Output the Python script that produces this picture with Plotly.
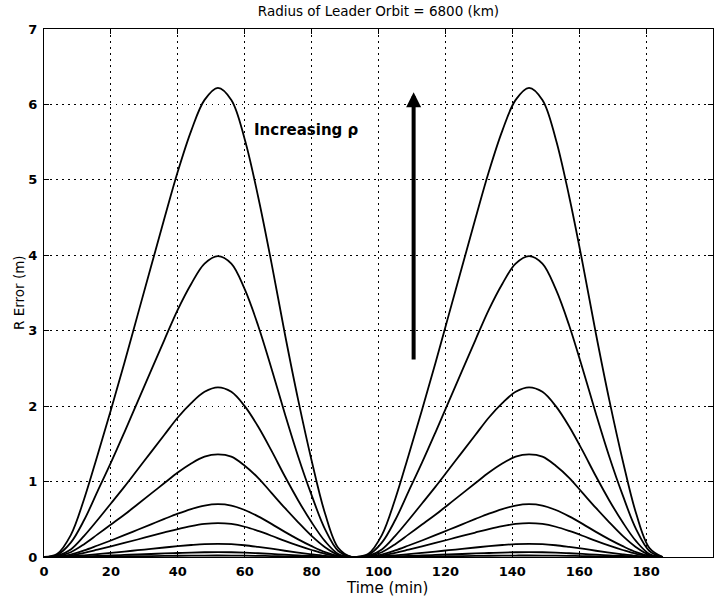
import plotly.graph_objects as go

# Sample times over two leader orbits (minutes)
time_min = [0, 4, 8, 12, 16, 20, 24, 28, 32, 36, 40, 44, 48, 52, 56, 60, 64, 68, 72, 76,
            80, 84, 88, 92,
            93, 97, 101, 105, 109, 113, 117, 121, 125, 129, 133, 137, 141, 145, 149, 153,
            157, 161, 165, 169, 173, 177, 181, 185]

# Radial error (m) for each formation size rho, smallest to largest
err_rho_1 = [0, 0.0001, 0.0009, 0.0025, 0.0043, 0.0063, 0.0083, 0.0103, 0.0124, 0.0144, 0.0164,
             0.0182, 0.0195, 0.02, 0.0195, 0.0178, 0.0154, 0.0125, 0.0095, 0.0067, 0.0041,
             0.0019, 0.0004, 0,
             0, 0.0001, 0.0009, 0.0025, 0.0043, 0.0063, 0.0083, 0.0103, 0.0124, 0.0144, 0.0164,
             0.0182, 0.0195, 0.02, 0.0195, 0.0178, 0.0154, 0.0125, 0.0095, 0.0067, 0.0041,
             0.0019, 0.0004, 0]
err_rho_2 = [0, 0.0005, 0.003, 0.008, 0.014, 0.020, 0.027, 0.034, 0.040, 0.047, 0.053,
             0.059, 0.063, 0.065, 0.063, 0.058, 0.050, 0.041, 0.031, 0.022, 0.013,
             0.006, 0.001, 0,
             0, 0.0005, 0.003, 0.008, 0.014, 0.020, 0.027, 0.034, 0.040, 0.047, 0.053,
             0.059, 0.063, 0.065, 0.063, 0.058, 0.050, 0.041, 0.031, 0.022, 0.013,
             0.006, 0.001, 0]
err_rho_3 = [0, 0.0012, 0.0082, 0.0217, 0.038, 0.055, 0.072, 0.090, 0.108, 0.126, 0.144,
             0.159, 0.171, 0.175, 0.171, 0.156, 0.134, 0.110, 0.083, 0.059, 0.036,
             0.016, 0.003, 0,
             0, 0.0012, 0.0082, 0.0217, 0.038, 0.055, 0.072, 0.090, 0.108, 0.126, 0.144,
             0.159, 0.171, 0.175, 0.171, 0.156, 0.134, 0.110, 0.083, 0.059, 0.036,
             0.016, 0.003, 0]
err_rho_4 = [0, 0.003, 0.021, 0.056, 0.098, 0.141, 0.186, 0.232, 0.279, 0.325, 0.370,
             0.409, 0.438, 0.45, 0.438, 0.401, 0.346, 0.282, 0.214, 0.150, 0.093,
             0.042, 0.009, 0,
             0, 0.003, 0.021, 0.056, 0.098, 0.141, 0.186, 0.232, 0.279, 0.325, 0.370,
             0.409, 0.438, 0.45, 0.438, 0.401, 0.346, 0.282, 0.214, 0.150, 0.093,
             0.042, 0.009, 0]
err_rho_5 = [0, 0.005, 0.033, 0.087, 0.152, 0.219, 0.289, 0.361, 0.433, 0.505, 0.575,
             0.636, 0.682, 0.70, 0.682, 0.623, 0.538, 0.439, 0.333, 0.234, 0.144,
             0.065, 0.014, 0,
             0, 0.005, 0.033, 0.087, 0.152, 0.219, 0.289, 0.361, 0.433, 0.505, 0.575,
             0.636, 0.682, 0.70, 0.682, 0.623, 0.538, 0.439, 0.333, 0.234, 0.144,
             0.065, 0.014, 0]
err_rho_6 = [0, 0.01, 0.063, 0.17, 0.30, 0.43, 0.56, 0.70, 0.84, 0.98, 1.12,
             1.24, 1.33, 1.36, 1.33, 1.21, 1.05, 0.85, 0.65, 0.46, 0.28,
             0.13, 0.026, 0,
             0, 0.01, 0.063, 0.17, 0.30, 0.43, 0.56, 0.70, 0.84, 0.98, 1.12,
             1.24, 1.33, 1.36, 1.33, 1.21, 1.05, 0.85, 0.65, 0.46, 0.28,
             0.13, 0.026, 0]
err_rho_7 = [0, 0.016, 0.10, 0.28, 0.49, 0.71, 0.93, 1.16, 1.39, 1.62, 1.85,
             2.04, 2.19, 2.25, 2.19, 2.00, 1.73, 1.41, 1.07, 0.75, 0.46,
             0.21, 0.04, 0,
             0, 0.016, 0.10, 0.28, 0.49, 0.71, 0.93, 1.16, 1.39, 1.62, 1.85,
             2.04, 2.19, 2.25, 2.19, 2.00, 1.73, 1.41, 1.07, 0.75, 0.46,
             0.21, 0.04, 0]
err_rho_8 = [0, 0.03, 0.19, 0.49, 0.87, 1.25, 1.65, 2.06, 2.47, 2.88, 3.28,
             3.62, 3.89, 3.99, 3.89, 3.55, 3.07, 2.50, 1.90, 1.33, 0.82,
             0.37, 0.08, 0,
             0, 0.03, 0.19, 0.49, 0.87, 1.25, 1.65, 2.06, 2.47, 2.88, 3.28,
             3.62, 3.89, 3.99, 3.89, 3.55, 3.07, 2.50, 1.90, 1.33, 0.82,
             0.37, 0.08, 0]
err_rho_9 = [0, 0.044, 0.29, 0.77, 1.35, 1.95, 2.57, 3.21, 3.85, 4.49, 5.11,
             5.65, 6.06, 6.22, 6.06, 5.54, 4.78, 3.90, 2.96, 2.08, 1.28,
             0.58, 0.12, 0,
             0, 0.044, 0.29, 0.77, 1.35, 1.95, 2.57, 3.21, 3.85, 4.49, 5.11,
             5.65, 6.06, 6.22, 6.06, 5.54, 4.78, 3.90, 2.96, 2.08, 1.28,
             0.58, 0.12, 0]

series = [err_rho_1, err_rho_2, err_rho_3, err_rho_4, err_rho_5,
          err_rho_6, err_rho_7, err_rho_8, err_rho_9]

x_ticks = [0, 20, 40, 60, 80, 100, 120, 140, 160, 180, 200]
y_ticks = [0, 1, 2, 3, 4, 5, 6, 7]

FONT = "DejaVu Sans, Verdana, sans-serif"
tick_font = dict(family=FONT, size=13, color="black", weight="bold")

fig = go.Figure()
for err in series:
    fig.add_trace(go.Scatter(
        x=time_min, y=err, mode="lines",
        line=dict(color="black", width=1.8, shape="spline", smoothing=1.0),
        showlegend=False, hoverinfo="x+y",
    ))

axis_common = dict(
    showline=True, linecolor="black", linewidth=1.3, mirror="ticks",
    ticks="inside", ticklen=5, tickwidth=1.3, tickcolor="black",
    showgrid=True, gridcolor="black", gridwidth=1, griddash="1.5px,4.5px",
    zeroline=False, tickfont=tick_font, automargin=False,
)

fig.update_xaxes(range=[0, 200], tickvals=x_ticks, ticklabelstandoff=2, **axis_common)
fig.update_yaxes(range=[0, 7], tickvals=y_ticks, ticklabelstandoff=3, **axis_common)

# Axis titles
fig.add_annotation(x=0.513, y=-0.0587, xref="paper", yref="paper", text="Time (min)",
                   showarrow=False, xanchor="center", yanchor="middle",
                   font=dict(family=FONT, size=15, color="black"))
fig.add_annotation(x=-0.0374, y=0.502, xref="paper", yref="paper", text="R Error (m)",
                   showarrow=False, textangle=-90, xanchor="center", yanchor="middle",
                   font=dict(family=FONT, size=13.5, color="black"))

# Label and arrow showing the direction of increasing rho
fig.add_annotation(x=78.5, y=5.66, xref="x", yref="y", text="<b>Increasing ρ</b>",
                   showarrow=False, font=dict(family=FONT, size=15, color="black"))
fig.add_annotation(x=110.5, y=6.16, ax=110.5, ay=2.6, xref="x", yref="y",
                   axref="x", ayref="y", text="", showarrow=True,
                   arrowhead=2, arrowsize=0.75, arrowwidth=4, arrowcolor="black")

fig.update_layout(
    width=725, height=600,
    margin=dict(l=44, r=12, t=29, b=43),
    paper_bgcolor="white", plot_bgcolor="white",
    title=dict(text="Radius of Leader Orbit = 6800 (km)", x=0.522, xanchor="center",
               y=0.989, yanchor="top", font=dict(family=FONT, size=13.5, color="black")),
    font=dict(family=FONT, color="black"),
)

fig.write_html("out.html")
